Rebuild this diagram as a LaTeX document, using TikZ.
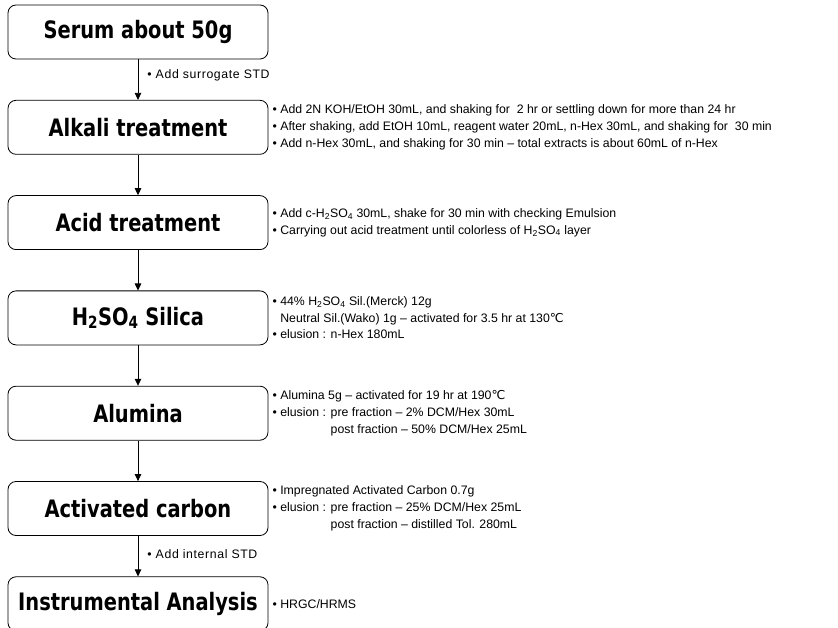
\documentclass[tikz,border=0pt]{standalone}
\usepackage{fontspec}
\setmainfont{Liberation Sans}
\newfontfamily\boxfont[FakeStretch=0.9]{DejaVu Sans Condensed}
\newfontfamily\labelfont[LetterSpace=5]{Liberation Sans}
\newfontfamily\symfont{DejaVu Sans}
\usepackage{tikz}
\usetikzlibrary{positioning,arrows.meta}
\newcommand{\degC}{{\symfont\char"2103}}

\begin{document}
\begin{tikzpicture}[>={Triangle[length=7pt,width=6.5pt]},node distance=40.5pt,
  stage/.style={draw,rounded corners=8pt,line width=0.8pt,minimum width=260pt,
    minimum height=54pt,inner sep=0pt,font=\boxfont\bfseries\fontsize{24}{28}\selectfont},
  note/.style={align=left,inner sep=0pt,font=\fontsize{12.3}{16.7}\selectfont},
  addlabel/.style={right,inner sep=0pt,xshift=9pt,font=\labelfont\fontsize{12.3}{14}\selectfont}]
  \useasboundingbox (0,0) rectangle (838pt,-628pt);
  \node[stage] (serum) at (138pt,-32pt) {Serum about 50g};
  \node[stage,below=of serum] (alkali) {Alkali treatment};
  \node[stage,below=of alkali] (acid) {Acid treatment};
  \node[stage,below=of acid] (silica) {H\textsubscript{2}SO\textsubscript{4} Silica};
  \node[stage,below=of silica] (alumina) {Alumina};
  \node[stage,below=of alumina] (carbon) {Activated carbon};
  \node[stage,below=of carbon] (analysis) {Instrumental Analysis};
  % notes beside the stages
  \node[note,right=4pt of alkali] (alkalinote) {%
    • Add 2N KOH/EtOH 30mL, and shaking for~ 2 hr or settling down for more than 24 hr\\
    • After shaking, add EtOH 10mL, reagent water 20mL, n-Hex 30mL, and shaking for~ 30 min\\
    • Add n-Hex 30mL, and shaking for 30 min – total extracts is about 60mL of n-Hex};
  \node[note,right=4pt of acid] (acidnote) {%
    • Add c-H\textsubscript{2}SO\textsubscript{4} 30mL, shake for 30 min with checking Emulsion\\
    • Carrying out acid treatment until colorless of H\textsubscript{2}SO\textsubscript{4} layer};
  \node[note,right=4pt of silica] (silicanote) {%
    • 44\% H\textsubscript{2}SO\textsubscript{4} Sil.(Merck) 12g\\
    \hphantom{• }Neutral Sil.(Wako) 1g – activated for 3.5 hr at 130\degC\\
    • elusion : n-Hex 180mL};
  \node[note,right=4pt of alumina] (aluminanote) {%
    • Alumina 5g – activated for 19 hr at 190\degC\\
    • elusion : pre fraction – 2\% DCM/Hex 30mL\\
    \hphantom{• elusion : }post fraction – 50\% DCM/Hex 25mL};
  \node[note,right=4pt of carbon] (carbonnote) {%
    • Impregnated Activated Carbon 0.7g\\
    • elusion : pre fraction – 25\% DCM/Hex 25mL\\
    \hphantom{• elusion : }post fraction – distilled Tol. 280mL};
  \node[note,right=4pt of analysis] (analysisnote) {• HRGC/HRMS};
  % flow
  \path[->,line width=0.8pt]
    (serum) edge node[addlabel,pos=0.4] {• Add surrogate STD} (alkali)
    (alkali) edge (acid)
    (acid) edge (silica)
    (silica) edge (alumina)
    (alumina) edge (carbon)
    (carbon) edge node[addlabel,pos=0.45] {• Add internal STD} (analysis);
\end{tikzpicture}
\end{document}
